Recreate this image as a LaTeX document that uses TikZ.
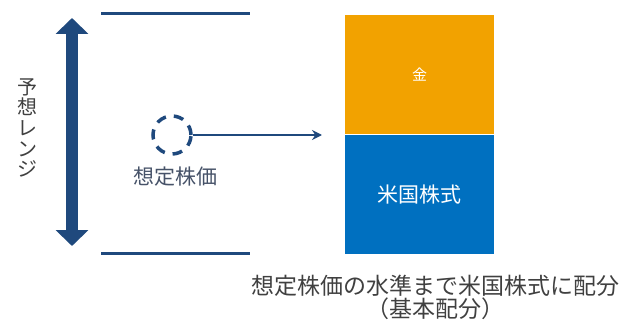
\documentclass[tikz,border=0pt]{standalone}
\usepackage{fontspec}
\setmainfont{Noto Sans CJK JP}
\usetikzlibrary{positioning, arrows.meta}
\definecolor{navy}{RGB}{31,73,125}
\definecolor{gold}{RGB}{242,162,0}
\definecolor{stock}{RGB}{0,112,192}
\definecolor{txt}{RGB}{64,64,64}
\definecolor{slate}{RGB}{70,82,104}
\tikzstyle{level}=[draw=navy, line width=3pt]
\tikzstyle{spread}=[draw=navy, line width=12pt, {Triangle[width=32pt,length=16pt]}-{Triangle[width=32pt,length=16pt]}]
\tikzstyle{price}=[circle, minimum size=38pt, inner sep=0pt, draw=navy, line width=3.5pt, dash pattern=on 10pt off 8pt]
\tikzstyle{flow}=[draw=navy, line width=2.5pt, -{Stealth[length=10pt,width=10pt]}]
\tikzstyle{asset}=[rectangle, minimum width=149pt, minimum height=119pt, inner sep=0pt, text=white, font=\fontsize{21}{21}\selectfont]

\begin{document}
\begin{tikzpicture}[x=1pt, y=-1pt]
            \useasboundingbox (0,0) rectangle (627,329);
            % expected range: upper and lower levels
            \coordinate (hiL) at (101,14);
            \coordinate (hiR) at (250,14);
            \coordinate (loL) at (101,253);
            \coordinate (loR) at (250,253);
            \draw[level] (hiL) -- (hiR);
            \draw[level] (loL) -- (loR);
            % range arrow
            \coordinate (rtop) at (72,18);
            \coordinate (rbot) at (72,246);
            \draw[spread] (rtop) -- (rbot);
            \node[text=txt, align=center, font=\fontsize{20}{20.6}\selectfont] (rangelbl) at (27,128) {予\\想\\レ\\ン\\ジ};
            % expected price
            \node[price](price) at (172,135){};
            \node[text=slate, font=\fontsize{21}{21}\selectfont] (pricelbl) at (175,177) {想定株価};
            \coordinate (tip) at (322,135);
            \draw[flow] (price) -- (tip);
            % allocation
            \node[asset, fill=gold, anchor=north west, font=\fontsize{15}{15}\selectfont] (gold) at (345,15) {金};
            \node[asset, fill=stock, below=0pt of gold] (stock) {米国株式};
            \node[text=txt, align=center, font=\fontsize{23}{23}\selectfont] (basis) at (435,297) {想定株価の水準まで米国株式に配分\\（基本配分）};
\end{tikzpicture}
\end{document}
